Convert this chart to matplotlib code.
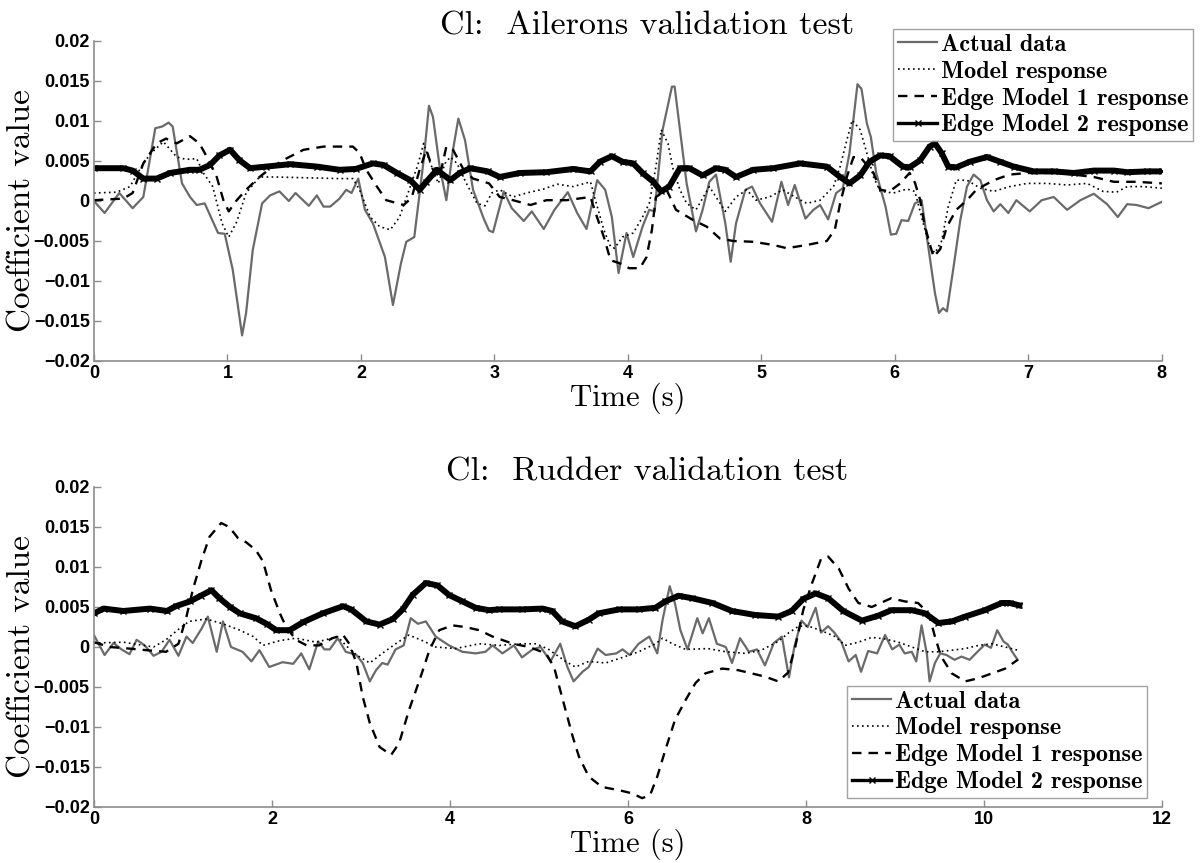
import numpy as np
import matplotlib
matplotlib.use('Agg')
import matplotlib.pyplot as plt

# ---- Ailerons test (top) ----
ail_act_t = [0.00, 0.08, 0.19, 0.29, 0.37, 0.46, 0.51, 0.56, 0.59, 0.66, 0.72, 0.77, 0.83, 0.93, 0.98,
             1.04, 1.11, 1.14, 1.19, 1.26, 1.32, 1.39, 1.46, 1.51, 1.61, 1.67, 1.72, 1.77, 1.84, 1.89,
             1.93, 1.98, 2.03, 2.09, 2.18, 2.24, 2.30, 2.34, 2.40, 2.47, 2.51, 2.54, 2.59, 2.64, 2.69,
             2.73, 2.78, 2.84, 2.92, 2.96, 2.99, 3.07, 3.13, 3.22, 3.28, 3.37, 3.45, 3.55, 3.62, 3.69,
             3.77, 3.83, 3.88, 3.93, 3.99, 4.04, 4.11, 4.16, 4.20, 4.26, 4.33, 4.35, 4.39, 4.44, 4.51,
             4.56, 4.61, 4.66, 4.73, 4.77, 4.81, 4.88, 4.93, 4.99, 5.08, 5.15, 5.20, 5.25, 5.33, 5.39,
             5.44, 5.50, 5.56, 5.61, 5.66, 5.72, 5.75, 5.79, 5.82, 5.86, 5.93, 5.97, 6.01, 6.05, 6.10,
             6.15, 6.20, 6.25, 6.30, 6.33, 6.36, 6.39, 6.44, 6.49, 6.54, 6.59, 6.64, 6.69, 6.74, 6.79,
             6.85, 6.91, 7.01, 7.10, 7.19, 7.29, 7.39, 7.49, 7.59, 7.67, 7.74, 7.81, 7.90, 8.00]
ail_act_v = [0.0000, -0.0015, 0.0010, -0.0009, 0.0005, 0.0091, 0.0093, 0.0098, 0.0093, 0.0022, 0.0005, -0.0005, -0.0003, -0.0040, -0.0041,
             -0.0086, -0.0168, -0.0140, -0.0061, -0.0003, 0.0007, 0.0012, 0.0000, 0.0010, -0.0006, 0.0007, -0.0007, -0.0007, 0.0003, 0.0014,
             0.0010, 0.0028, -0.0011, -0.0028, -0.0070, -0.0130, -0.0078, -0.0051, -0.0045, 0.0051, 0.0119, 0.0105, 0.0043, 0.0001, 0.0064,
             0.0103, 0.0076, 0.0014, -0.0022, -0.0037, -0.0039, 0.0012, -0.0009, -0.0025, -0.0013, -0.0035, -0.0011, 0.0011, -0.0015, -0.0035,
             0.0026, 0.0014, -0.0020, -0.0090, -0.0040, -0.0070, -0.0032, -0.0011, -0.0013, 0.0089, 0.0143, 0.0143, 0.0089, 0.0022, -0.0038,
             -0.0011, 0.0024, 0.0033, -0.0028, -0.0076, -0.0028, 0.0014, 0.0018, -0.0003, -0.0026, 0.0024, -0.0005, 0.0020, -0.0022, -0.0011,
             -0.0005, -0.0023, 0.0010, 0.0016, 0.0060, 0.0146, 0.0140, 0.0097, 0.0080, 0.0035, -0.0007, -0.0042, -0.0041, -0.0024, -0.0025,
             -0.0003, 0.0001, -0.0057, -0.0115, -0.0140, -0.0134, -0.0138, -0.0082, -0.0024, 0.0018, 0.0033, 0.0026, 0.0001, -0.0013, -0.0004,
             -0.0015, 0.0001, -0.0013, 0.0001, 0.0005, -0.0011, 0.0001, 0.0009, -0.0004, -0.0020, -0.0004, -0.0005, -0.0009, -0.0001]

ail_mod_t = [0.00, 0.17, 0.27, 0.37, 0.43, 0.52, 0.62, 0.69, 0.77, 0.82, 0.89, 0.96, 1.01, 1.07, 1.14,
             1.24, 1.36, 1.59, 1.84, 1.94, 1.99, 2.07, 2.14, 2.22, 2.29, 2.37, 2.43, 2.47, 2.52, 2.58,
             2.63, 2.67, 2.72, 2.79, 2.87, 2.93, 2.98, 3.04, 3.14, 3.24, 3.37, 3.47, 3.59, 3.72, 3.75,
             3.82, 3.87, 3.90, 3.96, 4.04, 4.11, 4.16, 4.21, 4.25, 4.30, 4.34, 4.39, 4.44, 4.51, 4.61,
             4.66, 4.73, 4.81, 4.89, 4.96, 5.06, 5.16, 5.25, 5.34, 5.44, 5.54, 5.59, 5.64, 5.68, 5.74,
             5.79, 5.84, 5.89, 5.99, 6.09, 6.15, 6.20, 6.26, 6.30, 6.35, 6.40, 6.46, 6.54, 6.64, 6.74,
             6.86, 6.99, 7.14, 7.29, 7.44, 7.56, 7.66, 7.74, 7.86, 8.00]
ail_mod_v = [0.0010, 0.0011, 0.0018, 0.0047, 0.0060, 0.0074, 0.0055, 0.0052, 0.0053, 0.0035, 0.0018, -0.0028, -0.0045, -0.0026, 0.0010,
             0.0030, 0.0030, 0.0029, 0.0028, 0.0028, 0.0014, -0.0020, -0.0032, -0.0036, -0.0020, 0.0018, 0.0047, 0.0072, 0.0047, 0.0022,
             0.0047, 0.0055, 0.0047, 0.0022, -0.0003, -0.0006, 0.0010, 0.0014, 0.0005, 0.0010, 0.0015, 0.0021, 0.0018, 0.0024, 0.0005,
             -0.0036, -0.0057, -0.0059, -0.0045, -0.0040, -0.0020, -0.0003, 0.0043, 0.0089, 0.0072, 0.0039, 0.0014, -0.0003, -0.0011, 0.0018,
             0.0005, -0.0013, 0.0005, 0.0014, 0.0001, 0.0005, 0.0014, 0.0005, -0.0003, 0.0001, 0.0018, 0.0043, 0.0076, 0.0101, 0.0089,
             0.0060, 0.0030, 0.0012, 0.0010, 0.0015, 0.0012, -0.0020, -0.0057, -0.0065, -0.0050, -0.0007, 0.0026, 0.0026, 0.0016, 0.0012,
             0.0018, 0.0022, 0.0022, 0.0020, 0.0022, 0.0012, 0.0011, 0.0018, 0.0018, 0.0016]

ail_e1_t = [0.00, 0.22, 0.29, 0.37, 0.47, 0.54, 0.62, 0.72, 0.79, 0.84, 0.92, 0.97, 1.01, 1.07, 1.14,
            1.24, 1.34, 1.44, 1.57, 1.72, 1.94, 1.99, 2.04, 2.12, 2.19, 2.32, 2.38, 2.44, 2.49, 2.54,
            2.59, 2.64, 2.69, 2.77, 2.84, 2.96, 3.04, 3.14, 3.27, 3.39, 3.54, 3.72, 3.75, 3.82, 3.87,
            3.94, 4.01, 4.09, 4.14, 4.18, 4.21, 4.29, 4.36, 4.49, 4.59, 4.69, 4.79, 4.94, 5.09, 5.19,
            5.34, 5.49, 5.55, 5.59, 5.64, 5.69, 5.75, 5.84, 5.89, 5.96, 6.04, 6.11, 6.15, 6.19, 6.22,
            6.26, 6.29, 6.34, 6.39, 6.46, 6.54, 6.61, 6.74, 6.86, 6.99, 7.24, 7.49, 7.64, 7.81, 8.00]
ail_e1_v = [0.0001, 0.0003, 0.0010, 0.0047, 0.0072, 0.0078, 0.0072, 0.0081, 0.0072, 0.0057, 0.0030, 0.0001, -0.0013, 0.0001, 0.0014,
            0.0030, 0.0043, 0.0053, 0.0064, 0.0068, 0.0068, 0.0060, 0.0039, 0.0018, 0.0001, -0.0005, 0.0004, 0.0039, 0.0064, 0.0039,
            0.0030, 0.0068, 0.0064, 0.0039, 0.0028, 0.0022, 0.0005, 0.0001, -0.0005, 0.0001, 0.0001, 0.0005, -0.0011, -0.0045, -0.0074,
            -0.0078, -0.0084, -0.0084, -0.0070, -0.0036, 0.0005, 0.0014, -0.0011, -0.0024, -0.0032, -0.0047, -0.0050, -0.0051, -0.0055, -0.0059,
            -0.0055, -0.0050, -0.0036, -0.0003, 0.0030, 0.0055, 0.0053, 0.0035, 0.0014, 0.0012, 0.0022, 0.0035, 0.0023, 0.0001, -0.0028,
            -0.0053, -0.0070, -0.0060, -0.0032, -0.0011, 0.0001, 0.0014, 0.0026, 0.0033, 0.0035, 0.0035, 0.0030, 0.0024, 0.0024, 0.0022]

ail_e2_t = [0.00, 0.22, 0.29, 0.37, 0.47, 0.57, 0.72, 0.79, 0.87, 0.94, 1.02, 1.09, 1.17, 1.29, 1.47,
            1.67, 1.84, 1.96, 2.09, 2.17, 2.27, 2.37, 2.44, 2.49, 2.57, 2.67, 2.74, 2.82, 2.95, 3.04,
            3.19, 3.39, 3.59, 3.72, 3.79, 3.88, 3.96, 4.04, 4.11, 4.19, 4.25, 4.31, 4.39, 4.46, 4.56,
            4.66, 4.73, 4.81, 4.94, 5.09, 5.29, 5.49, 5.59, 5.66, 5.74, 5.81, 5.89, 5.96, 6.06, 6.11,
            6.19, 6.26, 6.30, 6.35, 6.40, 6.46, 6.56, 6.69, 6.79, 6.89, 7.04, 7.19, 7.34, 7.49, 7.64,
            7.74, 7.89, 8.00]
ail_e2_v = [0.0041, 0.0041, 0.0038, 0.0028, 0.0028, 0.0035, 0.0039, 0.0039, 0.0045, 0.0057, 0.0064, 0.0051, 0.0041, 0.0043, 0.0046,
            0.0043, 0.0039, 0.0040, 0.0047, 0.0045, 0.0035, 0.0026, 0.0014, 0.0024, 0.0039, 0.0026, 0.0035, 0.0041, 0.0037, 0.0030,
            0.0035, 0.0036, 0.0040, 0.0037, 0.0049, 0.0056, 0.0049, 0.0047, 0.0035, 0.0024, 0.0012, 0.0018, 0.0041, 0.0041, 0.0032,
            0.0041, 0.0039, 0.0030, 0.0039, 0.0041, 0.0047, 0.0043, 0.0030, 0.0022, 0.0032, 0.0049, 0.0057, 0.0056, 0.0043, 0.0042,
            0.0051, 0.0068, 0.0072, 0.0060, 0.0043, 0.0042, 0.0049, 0.0055, 0.0049, 0.0043, 0.0037, 0.0037, 0.0035, 0.0038, 0.0038,
            0.0036, 0.0037, 0.0037]

# ---- Rudder test (bottom) ----
rud_act_t = [0.00, 0.12, 0.22, 0.31, 0.40, 0.48, 0.57, 0.67, 0.76, 0.85, 0.95, 1.04, 1.11, 1.21, 1.28,
             1.38, 1.45, 1.54, 1.67, 1.77, 1.86, 1.97, 2.12, 2.24, 2.33, 2.42, 2.52, 2.59, 2.65, 2.74,
             2.83, 2.95, 3.02, 3.10, 3.17, 3.24, 3.30, 3.39, 3.48, 3.56, 3.64, 3.73, 3.84, 3.99, 4.14,
             4.29, 4.40, 4.48, 4.59, 4.72, 4.81, 4.93, 5.02, 5.13, 5.24, 5.32, 5.39, 5.49, 5.56, 5.66,
             5.75, 5.87, 5.94, 6.02, 6.12, 6.24, 6.33, 6.39, 6.47, 6.53, 6.59, 6.67, 6.78, 6.84, 6.91,
             7.00, 7.10, 7.17, 7.26, 7.36, 7.45, 7.54, 7.64, 7.73, 7.81, 7.87, 7.95, 8.02, 8.11, 8.17,
             8.25, 8.32, 8.40, 8.48, 8.56, 8.62, 8.70, 8.80, 8.89, 8.97, 9.05, 9.11, 9.19, 9.24, 9.30,
             9.36, 9.39, 9.45, 9.51, 9.58, 9.67, 9.75, 9.84, 9.91, 10.01, 10.08, 10.15, 10.22, 10.27, 10.33,
             10.38]
rud_act_v = [0.0015, -0.0010, 0.0005, -0.0003, -0.0009, 0.0009, 0.0002, -0.0011, -0.0006, 0.0009, -0.0011, 0.0013, 0.0005, 0.0023, 0.0038,
             -0.0006, 0.0032, 0.0000, -0.0006, -0.0018, -0.0004, -0.0025, -0.0019, -0.0021, -0.0008, -0.0028, 0.0007, -0.0003, -0.0003, 0.0011,
             -0.0006, -0.0010, -0.0020, -0.0043, -0.0029, -0.0020, -0.0022, -0.0003, 0.0002, 0.0036, 0.0029, 0.0032, 0.0013, 0.0002, -0.0006,
             -0.0008, -0.0006, 0.0002, -0.0008, 0.0002, -0.0013, -0.0003, 0.0000, -0.0018, 0.0004, -0.0025, -0.0043, -0.0031, -0.0025, -0.0002,
             -0.0010, -0.0008, -0.0003, -0.0010, 0.0004, 0.0013, -0.0008, 0.0034, 0.0076, 0.0054, 0.0021, -0.0003, 0.0036, 0.0017, 0.0036,
             0.0004, 0.0000, -0.0020, 0.0011, -0.0006, -0.0003, -0.0023, 0.0005, 0.0013, -0.0038, 0.0000, 0.0033, 0.0025, 0.0049, 0.0018,
             0.0026, 0.0018, 0.0006, -0.0018, -0.0010, -0.0031, -0.0005, -0.0008, 0.0015, -0.0003, 0.0003, -0.0008, -0.0006, -0.0018, 0.0027,
             -0.0009, -0.0043, -0.0020, -0.0008, -0.0010, -0.0016, -0.0012, -0.0016, -0.0008, 0.0003, -0.0001, 0.0021, 0.0007, 0.0003, -0.0008,
             -0.0016]

rud_mod_t = [0.00, 0.33, 0.67, 0.81, 0.96, 1.07, 1.26, 1.45, 1.64, 1.79, 1.90, 2.09, 2.27, 2.50, 2.74,
             2.83, 2.95, 3.10, 3.24, 3.39, 3.54, 3.69, 3.84, 4.06, 4.33, 4.56, 4.78, 4.97, 5.11, 5.30,
             5.41, 5.56, 5.75, 5.94, 6.12, 6.31, 6.39, 6.50, 6.65, 6.90, 7.10, 7.32, 7.50, 7.69, 7.81,
             7.92, 8.03, 8.16, 8.33, 8.44, 8.59, 8.74, 8.89, 9.04, 9.19, 9.34, 9.49, 9.64, 9.79, 9.94,
             10.09, 10.24, 10.38]
rud_mod_v = [0.0005, 0.0006, 0.0000, 0.0009, 0.0023, 0.0032, 0.0035, 0.0029, 0.0021, 0.0013, 0.0002, 0.0008, 0.0011, 0.0006, 0.0013,
             0.0002, -0.0010, -0.0020, -0.0008, 0.0004, 0.0015, 0.0008, 0.0000, -0.0002, 0.0004, 0.0002, 0.0004, 0.0004, -0.0003, -0.0018,
             -0.0025, -0.0018, -0.0020, -0.0013, -0.0006, 0.0004, 0.0011, 0.0004, -0.0003, -0.0002, -0.0006, -0.0008, -0.0004, 0.0007, 0.0018,
             0.0026, 0.0026, 0.0021, 0.0013, 0.0002, 0.0006, 0.0012, 0.0010, 0.0006, 0.0000, -0.0006, -0.0006, -0.0004, -0.0002, 0.0002,
             0.0004, 0.0000, -0.0004]

rud_e1_t = [0.00, 0.18, 0.40, 0.59, 0.81, 0.95, 1.04, 1.11, 1.21, 1.30, 1.43, 1.52, 1.62, 1.71, 1.82,
            1.90, 1.99, 2.09, 2.16, 2.27, 2.39, 2.53, 2.68, 2.80, 2.87, 2.95, 3.02, 3.10, 3.21, 3.34,
            3.43, 3.54, 3.66, 3.77, 3.88, 4.03, 4.17, 4.33, 4.48, 4.71, 4.89, 5.08, 5.17, 5.23, 5.30,
            5.38, 5.45, 5.56, 5.71, 5.90, 6.05, 6.16, 6.25, 6.33, 6.42, 6.53, 6.65, 6.76, 6.87, 7.06,
            7.24, 7.39, 7.54, 7.69, 7.80, 7.88, 7.97, 8.07, 8.17, 8.25, 8.37, 8.48, 8.59, 8.74, 8.96,
            9.11, 9.26, 9.38, 9.45, 9.52, 9.64, 9.79, 9.94, 10.09, 10.24, 10.38]
rud_e1_v = [0.0006, 0.0000, -0.0002, -0.0004, -0.0006, 0.0004, 0.0038, 0.0071, 0.0109, 0.0138, 0.0155, 0.0150, 0.0136, 0.0131, 0.0121,
            0.0107, 0.0071, 0.0042, 0.0025, 0.0009, 0.0002, 0.0002, 0.0011, 0.0015, 0.0004, -0.0020, -0.0062, -0.0095, -0.0125, -0.0135,
            -0.0120, -0.0079, -0.0041, -0.0004, 0.0021, 0.0027, 0.0025, 0.0021, 0.0013, 0.0004, 0.0000, -0.0008, -0.0025, -0.0050, -0.0079,
            -0.0112, -0.0137, -0.0162, -0.0175, -0.0179, -0.0183, -0.0189, -0.0185, -0.0162, -0.0129, -0.0091, -0.0066, -0.0045, -0.0033, -0.0027,
            -0.0029, -0.0033, -0.0037, -0.0043, -0.0032, 0.0000, 0.0046, 0.0080, 0.0110, 0.0113, 0.0098, 0.0073, 0.0055, 0.0050, 0.0061,
            0.0057, 0.0055, 0.0042, 0.0013, -0.0012, -0.0033, -0.0043, -0.0039, -0.0033, -0.0027, -0.0016]

rud_e2_t = [0.00, 0.11, 0.33, 0.63, 0.82, 0.92, 1.08, 1.20, 1.32, 1.41, 1.53, 1.64, 1.82, 1.94, 2.05,
            2.20, 2.35, 2.57, 2.80, 2.89, 3.06, 3.21, 3.36, 3.47, 3.58, 3.73, 3.86, 3.99, 4.14, 4.29,
            4.44, 4.55, 4.81, 5.04, 5.15, 5.26, 5.41, 5.56, 5.67, 5.90, 6.12, 6.31, 6.42, 6.57, 6.72,
            6.95, 7.17, 7.43, 7.69, 7.84, 7.97, 8.11, 8.25, 8.42, 8.63, 8.81, 8.96, 9.19, 9.34, 9.49,
            9.64, 9.79, 10.01, 10.20, 10.29, 10.40]
rud_e2_v = [0.0042, 0.0048, 0.0045, 0.0048, 0.0045, 0.0051, 0.0057, 0.0064, 0.0071, 0.0061, 0.0050, 0.0042, 0.0036, 0.0029, 0.0021,
            0.0021, 0.0031, 0.0042, 0.0051, 0.0047, 0.0032, 0.0028, 0.0035, 0.0047, 0.0065, 0.0080, 0.0077, 0.0065, 0.0057, 0.0049,
            0.0046, 0.0047, 0.0047, 0.0048, 0.0045, 0.0032, 0.0026, 0.0034, 0.0042, 0.0047, 0.0047, 0.0049, 0.0057, 0.0064, 0.0061,
            0.0055, 0.0045, 0.0040, 0.0038, 0.0045, 0.0060, 0.0067, 0.0061, 0.0045, 0.0033, 0.0039, 0.0046, 0.0046, 0.0042, 0.0030,
            0.0032, 0.0038, 0.0046, 0.0055, 0.0055, 0.0052]

labels = ['Actual data', 'Model response', 'Edge Model 1 response', 'Edge Model 2 response']
y_ticks = [-0.02, -0.015, -0.01, -0.005, 0, 0.005, 0.01, 0.015, 0.02]
y_ticklabels = ['\u22120.02', '\u22120.015', '\u22120.01', '\u22120.005', '0', '0.005', '0.01', '0.015', '0.02']

GREY = '#6a6a6a'
AXC = '#8c8c8c'


def draw_panel(ax, series, title, xmax, xticks, leg_loc, leg_anchor):
    (t0, v0), (t1, v1), (t2, v2), (t3, v3) = series
    ax.plot(t0, v0, color=GREY, lw=1.6, label=labels[0])
    ax.plot(t1, v1, color='black', lw=1.2, ls=(0, (1, 2)), label=labels[1])
    ax.plot(t2, v2, color='black', lw=1.7, ls=(0, (4, 3)), label=labels[2])
    ax.plot(t3, v3, color='black', lw=4.3, marker='x', ms=4.5, mew=1.0, label=labels[3])

    ax.set_xlim(0, xmax)
    ax.set_ylim(-0.02, 0.02)
    ax.set_xticks(xticks)
    ax.set_yticks(y_ticks)
    ax.set_yticklabels(y_ticklabels)
    for lab in ax.get_xticklabels() + ax.get_yticklabels():
        lab.set_fontfamily('Liberation Sans')
        lab.set_fontweight('bold')
        lab.set_fontsize(13)
    ax.tick_params(direction='in', length=5, width=1, color=AXC, pad=3)
    ax.spines['top'].set_visible(False)
    ax.spines['right'].set_visible(False)
    for s in ('left', 'bottom'):
        ax.spines[s].set_color(AXC)
        ax.spines[s].set_linewidth(1.2)

    ax.set_title(title, family='cmr10', fontsize=24.5, pad=4, x=0.518)
    ax.set_xlabel('Time (s)', family='cmr10', fontsize=22, labelpad=0)
    ax.set_ylabel('Coefficient value', family='cmr10', fontsize=24)
    ax.yaxis.set_label_coords(-0.054, 0.47)

    leg = ax.legend(loc=leg_loc, bbox_to_anchor=leg_anchor, bbox_transform=fig.transFigure,
                    prop={'family': 'cmb10', 'size': 17.5}, fancybox=False, frameon=True,
                    handlelength=1.6, handletextpad=0.15, labelspacing=0.2,
                    borderpad=0.2, borderaxespad=0)
    leg.get_frame().set_edgecolor(AXC)
    leg.get_frame().set_linewidth(1.0)
    leg.legend_handles[3].set_markevery([1])
    leg.legend_handles[3].set_linewidth(2.4)


fig = plt.figure(figsize=(12.04, 8.63), dpi=100)
ax1 = fig.add_axes([0.078, 0.5817, 0.887, 0.3708])
ax2 = fig.add_axes([0.078, 0.0649, 0.887, 0.3708])

draw_panel(ax1,
           [(ail_act_t, ail_act_v), (ail_mod_t, ail_mod_v), (ail_e1_t, ail_e1_v), (ail_e2_t, ail_e2_v)],
           'Cl:  Ailerons validation test', 8, list(range(0, 9)),
           'upper right', (1193 / 1204, 1 - 29 / 863))
draw_panel(ax2,
           [(rud_act_t, rud_act_v), (rud_mod_t, rud_mod_v), (rud_e1_t, rud_e1_v), (rud_e2_t, rud_e2_v)],
           'Cl:  Rudder validation test', 12, list(range(0, 13, 2)),
           'lower right', (1147 / 1204, 1 - 798 / 863))

plt.savefig('out.png', dpi=100)
plt.close(fig)
